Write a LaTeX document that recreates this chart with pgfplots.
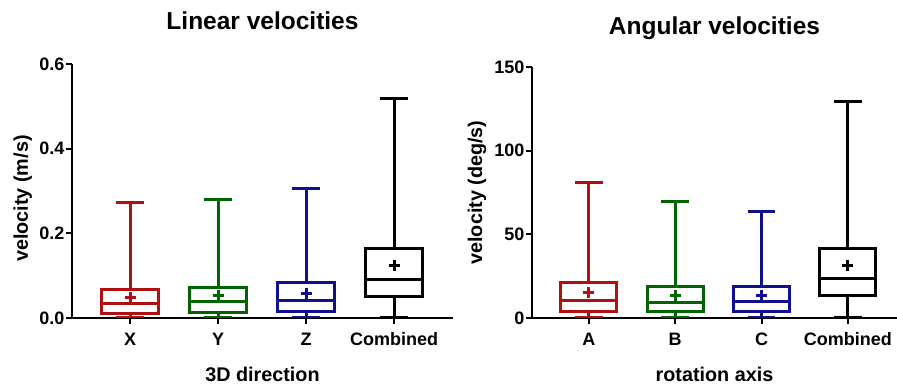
\documentclass[border=0pt]{standalone}
\usepackage{fontspec}
\setmainfont{Liberation Sans}
\usepackage{pgfplots}
\pgfplotsset{compat=1.18}
\usepgfplotslibrary{statistics}
\definecolor{cred}{RGB}{176,16,16}
\definecolor{cgreen}{RGB}{0,100,0}
\definecolor{cblue}{RGB}{16,16,140}
\pgfplotsset{
  prism/.style={
    scale only axis,
    axis x line=bottom, axis y line=left,
    axis line style={-, line width=2pt},
    tick style={line width=2pt, black},
    tick align=outside, major tick length=6pt,
    ymin=0, xtick={0,1,2,3},
    /pgf/number format/assume math mode=true,
    every tick label/.append style={font=\fontsize{18}{18}\selectfont\bfseries},
    yticklabel style={inner sep=1.5pt},
    xticklabel style={anchor=base, inner sep=0pt, yshift=-22pt},
    label style={font=\fontsize{19.8}{20}\selectfont\bfseries},
    title style={font=\fontsize{24.5}{25}\selectfont\bfseries, at={(0.5,1)}, anchor=base, yshift=28pt},
    xlabel style={at={(axis description cs:0.5,0)}, anchor=base, yshift=-64pt},
    boxplot/every box/.style={line width=3pt},
    boxplot/every whisker/.style={line width=3pt},
    boxplot/every median/.style={line width=3pt},
  },
  bx/.style={line width=3pt, draw=#1, solid, mark=none},
  mn/.style={only marks, mark=+, mark size=5.5pt, line width=3pt, color=#1},
}
\begin{document}
\begin{tikzpicture}
\useasboundingbox (0,0) rectangle (897pt,385pt);
\begin{axis}[prism, at={(72pt,67pt)}, anchor=south west,
  width=381pt, height=254pt,
  xmin=-0.66, xmax=3.67, ymax=0.6, ytick={0,0.2,0.4,0.6},
  yticklabel style={/pgf/number format/.cd, fixed, fixed zerofill, precision=1},
  xticklabels={X,Y,Z,Combined},
  title={Linear velocities}, xlabel={3D direction}, ylabel={velocity (m/s)},
  ylabel style={at={(axis description cs:-0.1155,0.47)}, anchor=base}]
\addplot[bx=cred, boxplot prepared={draw direction=y, box extend=0.65, whisker extend=0.32, draw position=0, lower whisker=0.001, lower quartile=0.010, median=0.034, upper quartile=0.067, upper whisker=0.274}] coordinates {};
\addplot[bx=cgreen, boxplot prepared={draw direction=y, box extend=0.65, whisker extend=0.32, draw position=1, lower whisker=0.001, lower quartile=0.013, median=0.038, upper quartile=0.073, upper whisker=0.281}] coordinates {};
\addplot[bx=cblue, boxplot prepared={draw direction=y, box extend=0.65, whisker extend=0.32, draw position=2, lower whisker=0.001, lower quartile=0.016, median=0.042, upper quartile=0.084, upper whisker=0.306}] coordinates {};
\addplot[bx=black, boxplot prepared={draw direction=y, box extend=0.65, whisker extend=0.32, draw position=3, lower whisker=0.002, lower quartile=0.050, median=0.091, upper quartile=0.164, upper whisker=0.519}] coordinates {};
\addplot[mn=cred] coordinates {(0,0.048)};
\addplot[mn=cgreen] coordinates {(1,0.052)};
\addplot[mn=cblue] coordinates {(2,0.059)};
\addplot[mn=black] coordinates {(3,0.124)};
\end{axis}
\begin{axis}[prism, at={(532pt,67pt)}, anchor=south west,
  width=365pt, height=251pt,
  xmin=-0.66, xmax=3.57, ymax=150, ytick={0,50,100,150},
  xticklabels={A,B,C,Combined},
  title={Angular velocities}, xlabel={rotation axis}, ylabel={velocity (deg/s)},
  title style={yshift=-2pt},
  ylabel style={at={(axis description cs:-0.137,0.5)}, anchor=base}]
\addplot[bx=cred, boxplot prepared={draw direction=y, box extend=0.65, whisker extend=0.32, draw position=0, lower whisker=0.4, lower quartile=4.0, median=10.6, upper quartile=21.1, upper whisker=80.7}] coordinates {};
\addplot[bx=cgreen, boxplot prepared={draw direction=y, box extend=0.65, whisker extend=0.32, draw position=1, lower whisker=0.4, lower quartile=3.6, median=9.2, upper quartile=18.8, upper whisker=69.6}] coordinates {};
\addplot[bx=cblue, boxplot prepared={draw direction=y, box extend=0.65, whisker extend=0.32, draw position=2, lower whisker=0.4, lower quartile=3.6, median=9.8, upper quartile=18.8, upper whisker=63.4}] coordinates {};
\addplot[bx=black, boxplot prepared={draw direction=y, box extend=0.65, whisker extend=0.32, draw position=3, lower whisker=0.5, lower quartile=13.2, median=23.5, upper quartile=41.5, upper whisker=129.1}] coordinates {};
\addplot[mn=cred] coordinates {(0,15.2)};
\addplot[mn=cgreen] coordinates {(1,13.6)};
\addplot[mn=cblue] coordinates {(2,13.6)};
\addplot[mn=black] coordinates {(3,31.5)};
\end{axis}
\end{tikzpicture}
\end{document}
